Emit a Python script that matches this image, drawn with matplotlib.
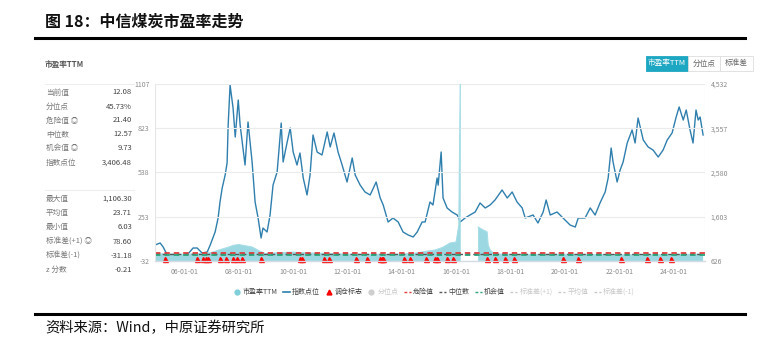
import matplotlib
matplotlib.use("Agg")
import matplotlib.pyplot as plt
import numpy as np
from matplotlib.lines import Line2D
from matplotlib.patches import Rectangle

plt.rcParams['font.family'] = ['Noto Sans CJK SC', 'DejaVu Sans']

# index level (right axis): decimal year, points
idx_year = [2004.93, 2005.12, 2005.23, 2005.38, 2005.60, 2005.85, 2006.11, 2006.33, 2006.48, 2006.66,
            2006.85, 2006.96, 2007.14, 2007.25, 2007.32, 2007.40, 2007.51, 2007.58, 2007.62, 2007.69,
            2007.80, 2007.88, 2007.99, 2008.06, 2008.24, 2008.35, 2008.50, 2008.61, 2008.72, 2008.83,
            2008.90, 2009.05, 2009.16, 2009.27, 2009.42, 2009.57, 2009.64, 2009.79, 2009.90, 2010.01,
            2010.15, 2010.26, 2010.38, 2010.52, 2010.63, 2010.74, 2010.89, 2011.07, 2011.26, 2011.37,
            2011.51, 2011.66, 2011.81, 2011.99, 2012.18, 2012.29, 2012.47, 2012.65, 2012.84, 2013.06,
            2013.21, 2013.32, 2013.50, 2013.68, 2013.87, 2014.05, 2014.24, 2014.42, 2014.57, 2014.75,
            2014.86, 2015.04, 2015.15, 2015.30, 2015.34, 2015.45, 2015.52, 2015.67, 2015.85, 2016.04,
            2016.15, 2016.33, 2016.51, 2016.70, 2016.88, 2017.07, 2017.25, 2017.43, 2017.69, 2017.88,
            2018.06, 2018.24, 2018.43, 2018.54, 2018.83, 2019.01, 2019.20, 2019.31, 2019.46, 2019.71,
            2019.93, 2020.19, 2020.38, 2020.49, 2020.74, 2020.93, 2021.11, 2021.29, 2021.48, 2021.59,
            2021.70, 2021.77, 2021.92, 2022.03, 2022.14, 2022.29, 2022.47, 2022.58, 2022.69, 2022.88,
            2023.06, 2023.24, 2023.43, 2023.61, 2023.76, 2023.94, 2024.09, 2024.20, 2024.35, 2024.46,
            2024.60, 2024.71, 2024.82, 2024.90, 2024.97, 2025.08]
idx_val = [979, 1023, 935, 758, 714, 692, 758, 913, 913, 802,
           825, 979, 1266, 1575, 1928, 2237, 2524, 2789, 3627, 4510,
           4002, 3362, 4179, 3627, 2744, 3693, 2811, 1928, 1575, 1134,
           1354, 1266, 1641, 2303, 2590, 3671, 2811, 3252, 3561, 3031,
           2744, 3009, 2458, 2083, 2524, 3407, 3031, 2965, 3473, 3142,
           3451, 3031, 2744, 2369, 2899, 2524, 2303, 2149, 2083, 2369,
           2016, 1862, 1487, 1575, 1487, 1266, 1200, 1155, 1266, 1487,
           1487, 1928, 1862, 2458, 2300, 3031, 2016, 1796, 1707, 1641,
           1487, 1575, 1641, 1707, 1906, 1796, 1862, 1972, 2193, 2016,
           2149, 1928, 1796, 1575, 1641, 1465, 1707, 1972, 1641, 1707,
           1575, 1420, 1376, 1575, 1575, 1796, 1641, 1906, 2149, 2458,
           3120, 2811, 2369, 2634, 2811, 3230, 3517, 3230, 3782, 3296,
           3142, 3075, 2921, 3075, 3296, 3451, 3804, 4025, 3737, 3958,
           3517, 3230, 3958, 3737, 3804, 3406.48]

# PE TTM (left axis); nan where the picture shows no value
pe_year = [2004.93, 2005.5, 2006.0, 2006.5, 2007.0, 2007.3, 2007.6, 2007.8, 2008.0, 2008.2,
           2008.5, 2008.8, 2009.0, 2009.5, 2010.0, 2010.5, 2011.0, 2011.5, 2012.0, 2012.5,
           2013.0, 2013.5, 2014.0, 2014.5, 2014.9, 2015.23, 2015.5, 2015.78, 2016.0, 2016.1,
           2016.15, 2016.17, 2016.19, 2016.79, 2016.81, 2017.0, 2017.14, 2017.18, 2017.25, 2017.4,
           2018.0, 2019.0, 2020.0, 2021.0, 2021.7, 2022.0, 2023.0, 2024.0, 2025.08]
pe_val = [15, 12, 12, 14, 22, 40, 55, 68, 74, 68,
          58, 30, 15, 22, 25, 20, 18, 15, 12, 11,
          11, 10, 12, 18, 30, 39, 55, 84, 90, 200,
          1106.3, 1106.3, np.nan, np.nan, 187, 167, 155, 71, 39, 14,
          10, 10, 11, 10, 9, 8, 7, 10, 12.08]

# rebalancing marks (decimal year)
marks = [2005.30, 2006.48, 2006.70, 2006.81, 2006.88, 2007.32, 2007.54, 2007.80, 2007.95, 2008.13,
         2008.83, 2010.26, 2010.34, 2011.15, 2011.33, 2012.32, 2012.73, 2013.21, 2013.28, 2013.32,
         2014.09, 2014.31, 2014.90, 2015.23, 2015.30, 2015.67, 2015.89, 2017.14, 2017.43, 2017.80,
         2018.13, 2019.93, 2020.49, 2022.07, 2023.02, 2023.50, 2023.90]

danger, median, chance = 21.40, 12.57, 9.73

left_ticks = [-32, 253, 538, 823, 1107]
right_ticks = [626, 1603, 2580, 3557, 4532]
x_years = [2006, 2008, 2010, 2012, 2014, 2016, 2018, 2020, 2022, 2024]
x_labels = ['06-01-01', '08-01-01', '10-01-01', '12-01-01', '14-01-01',
            '16-01-01', '18-01-01', '20-01-01', '22-01-01', '24-01-01']

stat_names1 = ['当前值', '分位点', '危险值 ◎', '中位数', '机会值 ◎', '指数点位']
stat_vals1 = ['12.08', '45.73%', '21.40', '12.57', '9.73', '3,406.48']
stat_names2 = ['最大值', '平均值', '最小值', '标准差(+1) ◎', '标准差(-1)', 'z 分数']
stat_vals2 = ['1,106.30', '23.71', '6.03', '78.60', '-31.18', '-0.21']

W, H = 780, 353
fig = plt.figure(figsize=(W / 100, H / 100), dpi=100)

def fx(px):
    return px / W

def fy(py):
    return 1 - py / H

ax = fig.add_axes([fx(155), fy(261), fx(705) - fx(155), fy(84) - fy(261)])
ax2 = ax.twinx()
ax.set_zorder(ax2.get_zorder() + 1)
ax.patch.set_visible(False)

pe_c = '#9bd8e2'
ax.fill_between(pe_year, -32, pe_val, color=pe_c, lw=0)
ax.plot(pe_year, pe_val, color='#a6dde6', lw=0.8)
ax.axhline(danger, color='#e23b3b', ls=(0, (3, 2.2)), lw=1.3)
ax.axhline(median, color='#555555', ls=(0, (3, 2.2)), lw=1.0)
ax.axhline(chance, color='#2aa37a', ls=(0, (3, 2.2)), lw=1.3)
ax.plot(marks, [-20] * len(marks), ls='', marker='^', color='#ff0000', ms=3.6, clip_on=False)

ax2.plot(idx_year, idx_val, color='#2f7fae', lw=1.0)

ax.set_xlim(2004.93, 2025.15)
ax.set_ylim(-32, 1107)
ax2.set_ylim(626, 4532)
ax.set_yticks(left_ticks)
ax.set_yticklabels([str(t) for t in left_ticks])
ax2.set_yticks(right_ticks)
ax2.set_yticklabels([f'{t:,}' for t in right_ticks])
ax.set_xticks(x_years)
ax.set_xticklabels(x_labels)

for a in (ax, ax2):
    a.tick_params(axis='both', length=0, labelsize=5, colors='#8a8a8a', pad=4)
    for s in a.spines.values():
        s.set_visible(False)
ax.tick_params(axis='x', pad=5)
ax.grid(axis='y', color='#ebebeb', lw=0.8)
ax2.set_zorder(0)
ax2.grid(False)
ax.axhline(-32, color='#d5dbe3', lw=1.0, clip_on=False)
ax.axvline(2004.93, color='#e6e6e6', lw=0.8)
ax.axvline(2025.15, color='#e6e6e6', lw=0.8)

# title and frame lines
fig.text(fx(45), fy(22), '图 18：中信煤炭市盈率走势', fontsize=11.5, fontweight='bold',
         va='center', ha='left', color='#111111')
fig.add_artist(Line2D([fx(35), fx(745)], [fy(38), fy(38)], color='black', lw=2.2))
fig.add_artist(Line2D([fx(35), fx(745)], [fy(314), fy(314)], color='black', lw=2.2))
fig.text(fx(45), fy(328), '资料来源：Wind，中原证券研究所', fontsize=10.3, va='center', ha='left',
         color='#111111')

# stats panel
fig.text(fx(45), fy(64), '市盈率TTM', fontsize=5.5, fontweight='bold', va='center', color='#555555')
fig.add_artist(Line2D([fx(45), fx(134)], [fy(84), fy(84)], color='#eeeeee', lw=0.8))
fig.add_artist(Line2D([fx(45), fx(134)], [fy(190), fy(190)], color='#eeeeee', lw=0.8))
for i, (n, v) in enumerate(zip(stat_names1, stat_vals1)):
    yy = 92.5 + i * 14
    fig.text(fx(46), fy(yy), n, fontsize=5.5, va='center', color='#777777')
    fig.text(fx(132), fy(yy), v, fontsize=5.5, va='center', ha='right', color='#444444')
for i, (n, v) in enumerate(zip(stat_names2, stat_vals2)):
    yy = 199 + i * 14.2
    fig.text(fx(46), fy(yy), n, fontsize=5.5, va='center', color='#777777')
    fig.text(fx(132), fy(yy), v, fontsize=5.5, va='center', ha='right', color='#444444')

# buttons
btns = [('市盈率TTM', 646, 688, True), ('分位点', 688, 720, False), ('标准差', 720, 753, False)]
for lab, x0, x1, on in btns:
    fig.add_artist(Rectangle((fx(x0), fy(71)), fx(x1) - fx(x0), fy(56) - fy(71),
                             facecolor='#1ea7c2' if on else 'white',
                             edgecolor='#1ea7c2' if on else '#dddddd', lw=0.6,
                             transform=fig.transFigure))
    fig.text(fx((x0 + x1) / 2), fy(63.5), lab, fontsize=5.5, ha='center', va='center',
             color='white' if on else '#666666')

# legend
faded = '#c8c8c8'
handles = [
    Line2D([], [], ls='', marker='o', color='#7fcfdb', ms=3.5),
    Line2D([], [], color='#2f7fae', lw=1.2),
    Line2D([], [], ls='', marker='^', color='#ff0000', ms=3.5),
    Line2D([], [], ls='', marker='o', color='#cfcfcf', ms=3.5),
    Line2D([], [], color='#e23b3b', ls=(0, (2, 1.5)), lw=1.0),
    Line2D([], [], color='#555555', ls=(0, (2, 1.5)), lw=1.0),
    Line2D([], [], color='#2aa37a', ls=(0, (2, 1.5)), lw=1.0),
    Line2D([], [], color=faded, ls=(0, (2, 1.5)), lw=1.0),
    Line2D([], [], color=faded, ls=(0, (2, 1.5)), lw=1.0),
    Line2D([], [], color=faded, ls=(0, (2, 1.5)), lw=1.0),
]
labels = ['市盈率TTM', '指数点位', '调仓标志', '分位点', '危险值', '中位数', '机会值',
          '标准差(+1)', '平均值', '标准差(-1)']
leg = fig.legend(handles, labels, ncol=10, loc='center', bbox_to_anchor=(fx(434), fy(292)),
                 frameon=False, fontsize=5, handlelength=1.0, handletextpad=0.35,
                 columnspacing=0.75)
for i, t in enumerate(leg.get_texts()):
    t.set_color(faded if i in (3, 7, 8, 9) else '#444444')

fig.savefig('out.png', dpi=100)
